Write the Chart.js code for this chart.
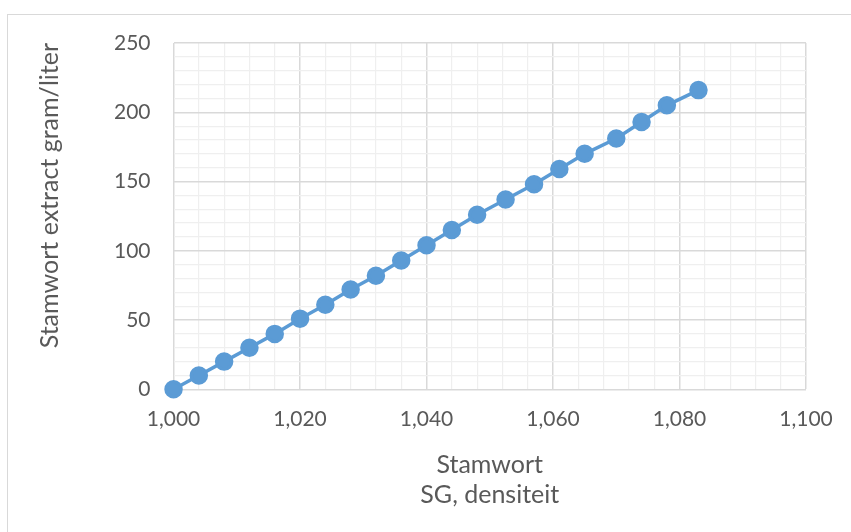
<!DOCTYPE html>
<html lang="nl">
<head>
<meta charset="UTF-8">
<title>Stamwort</title>
<style>
  html, body { margin: 0; padding: 0; background: #fff; }
  #wrap { width: 851px; height: 532px; }
</style>
</head>
<body>
<div id="wrap"><canvas id="myChart" width="851" height="532"></canvas></div>
<script src="https://cdn.jsdelivr.net/npm/chart.js"></script>
<script>
// SG (densiteit) and extract in gram/liter
const sg = [1.000, 1.004, 1.008, 1.012, 1.016, 1.020, 1.024, 1.028, 1.032, 1.036, 1.040,
            1.044, 1.048, 1.0525, 1.057, 1.061, 1.065, 1.070, 1.074, 1.078, 1.083];
const extract = [0, 10, 20, 30, 40, 51, 61, 72, 82, 93, 104,
                 115, 126, 137, 148, 159, 170, 181, 193, 205, 216];
const xTitle = ['Stamwort', 'SG, densiteit'];
const yTitle = 'Stamwort extract gram/liter';

const font = 'Lato, "Open Sans", sans-serif';
const txt = '#595959';

// white background + thin outer frame like the spreadsheet chart box
const frame = {
  id: 'frame',
  beforeDraw(chart) {
    const c = chart.ctx;
    c.save();
    c.fillStyle = '#fff';
    c.fillRect(0, 0, chart.width, chart.height);
    c.strokeStyle = '#d9d9d9';
    c.lineWidth = 1;
    c.strokeRect(7.5, 14.5, chart.width + 10, chart.height + 10);
    c.restore();
  }
};

const ctx = document.getElementById('myChart');
new Chart(ctx, {
  type: 'scatter',
  data: {
    datasets: [{
      data: sg.map((x, i) => ({ x: x, y: extract[i] })),
      showLine: true,
      clip: false,
      borderColor: '#5b9bd5',
      backgroundColor: '#5b9bd5',
      borderWidth: 3.5,
      pointRadius: 7.5,
      pointHoverRadius: 7.5
    }]
  },
  options: {
    responsive: false,
    animation: false,
    plugins: { legend: { display: false }, tooltip: { enabled: false } },
    layout: { padding: { left: 35, right: 45, top: 43, bottom: 0 } },
    scales: {
      x: {
        type: 'linear',
        min: 1.0,
        max: 1.1,
        ticks: {
          stepSize: 0.004,
          autoSkip: false,
          maxRotation: 0,
          color: txt,
          font: { family: font, size: 21 },
          padding: 17.5,   // chart.js reserves twice this
          callback: v => Math.round(v * 1000) % 20 === 0 ? v.toFixed(3).replace('.', ',') : ''
        },
        grid: {
          drawTicks: false,
          color: c => Math.round(c.tick.value * 1000) % 20 === 0 ? '#d9d9d9' : '#efefef',
          lineWidth: c => Math.round(c.tick.value * 1000) % 20 === 0 ? 1.5 : 1.2
        },
        border: { display: false },
        title: {
          display: true,
          text: xTitle,
          color: txt,
          font: { family: font, size: 25, lineHeight: 1.2 },
          padding: { top: 0, bottom: 22.5 }
        }
      },
      y: {
        min: 0,
        max: 250,
        ticks: {
          stepSize: 10,
          autoSkip: false,
          color: txt,
          font: { family: font, size: 21 },
          padding: 23,
          callback: v => v % 50 === 0 ? v : ''
        },
        grid: {
          drawTicks: false,
          color: c => c.tick.value % 50 === 0 ? '#d9d9d9' : '#efefef',
          lineWidth: c => c.tick.value % 50 === 0 ? 1.5 : 1.2
        },
        border: { display: false },
        title: {
          display: true,
          text: yTitle,
          align: 'end',
          color: txt,
          font: { family: font, size: 25, lineHeight: 1.2 },
          padding: { top: 0, bottom: 26 }
        }
      }
    }
  },
  plugins: [frame]
});
</script>
</body>
</html>
